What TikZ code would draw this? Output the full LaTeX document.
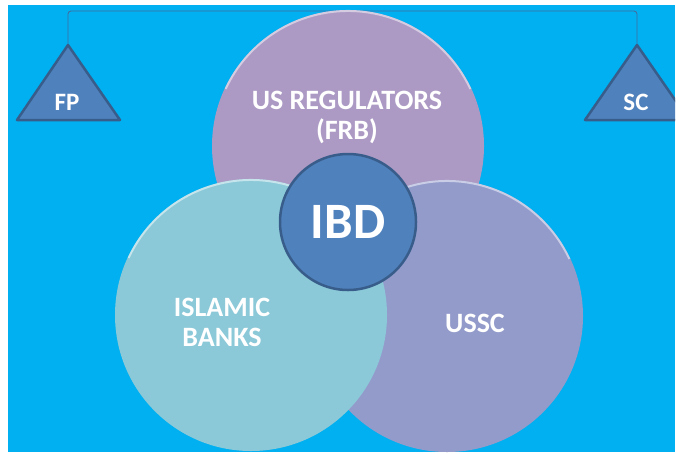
\documentclass[tikz,border=0pt]{standalone}
\usepackage{fontspec}
\setmainfont{Carlito}
\definecolor{skyblue}{HTML}{00B0F0}
\definecolor{regpurple}{HTML}{AC9AC4}
\definecolor{bankteal}{HTML}{8BC9D8}
\definecolor{ussclav}{HTML}{939BCB}
\definecolor{ibdblue}{HTML}{4F81BD}
\definecolor{ibdedge}{HTML}{385D8A}

\begin{document}
\begin{tikzpicture}[x=1pt, y=-1pt,
  venn/.style={circle, minimum size=272pt, inner sep=0pt},
  rim/.style={white, opacity=0.5, line width=2pt},
  word/.style={text=white, align=center, font=\bfseries\fontsize{28}{30}\selectfont},
  weight/.style={fill=ibdblue, draw=ibdedge, line width=2.5pt, line join=round},
  beam/.style={draw=ibdblue!85!black, line width=0.9pt, rounded corners=3pt}]
  \useasboundingbox (0,0) rectangle (676,453);
  \fill[white] (0,0) rectangle (676,453);
  \fill[skyblue] (8,5) rectangle (675,452);

  % ---------- the balance on top ----------
  \coordinate (fp) at (68,45);
  \coordinate (sc) at (637,45);
  \coordinate (beamtop) at (0,11);
  \draw[beam] (fp) |- (beamtop -| sc) -- (sc);
  \begin{scope}
    \clip (8,5) rectangle (675,452);
    \draw[weight] (17,120) -- (fp) -- (120,120) -- cycle;
    \draw[weight] (585,120) -- (sc) -- (689,120) -- cycle;
  \end{scope}
  \node[word, font=\bfseries\fontsize{25}{28}\selectfont] (fplabel) at (67,102) {FP};
  \node[word, font=\bfseries\fontsize{25}{28}\selectfont] (sclabel) at (636,102) {SC};

  % ---------- the three bodies ----------
  \node[venn, fill=regpurple] (reg) at (348,146) {};
  \draw[rim] (reg.center) ++(205:135) arc[start angle=205, end angle=335, radius=135];
  \node[venn, fill=ussclav] (ussc) at (447,316) {};
  \draw[rim] (ussc.center) ++(205:135) arc[start angle=205, end angle=335, radius=135];
  \node[venn, fill=bankteal] (bank) at (251,315) {};
  \draw[rim] (bank.center) ++(205:135) arc[start angle=205, end angle=335, radius=135];

  \node[word] (reglabel) at (347,117) {US REGULATORS\\(FRB)};
  \node[word] (banklabel) at (222,322) {ISLAMIC\\BANKS};
  \node[word] (ussclabel) at (475,323) {USSC};

  % ---------- where they meet ----------
  \node[circle, minimum size=136pt, inner sep=0pt, fill=ibdblue, draw=ibdedge,
    line width=2.5pt, text=white, font=\bfseries\fontsize{51}{55}\selectfont]
    (ibd) at (348,222) {IBD};
\end{tikzpicture}
\end{document}
